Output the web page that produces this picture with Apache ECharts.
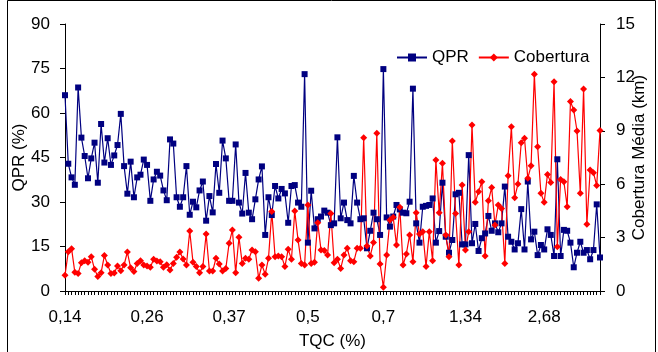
<!DOCTYPE html>
<html>
<head>
<meta charset="utf-8">
<script src="https://cdn.jsdelivr.net/npm/echarts@6/dist/echarts.min.js"></script>
<style>
html,body{margin:0;padding:0;background:#fff;}
#chart{width:658px;height:352px;}
</style>
</head>
<body>
<div id="chart"></div>
<script>
// Tick labels on the TQC axis and the category index at which each appears
const tqcLabels = ['0,14', '0,26', '0,37', '0,5', '0,7', '1,34', '2,68'];
const tqcLabelIndex = [0, 25, 50, 74, 97, 122, 146];

// QPR (%) – left axis
const qpr = [
  66, 42.9, 38.3, 35.8, 68.6, 51.7, 45.5, 38.0, 44.7, 50.0,
  36.5, 56.3, 43.3, 51.5, 42.5, 45.7, 49.2, 59.7, 42.1, 32.8,
  43.6, 31.6, 38.3, 39.2, 44.3, 42.5, 30.4, 37.6, 40.2, 38.9,
  33.9, 30.6, 51.1, 49.7, 31.6, 28.4, 31.6, 42.1, 25.7, 30.1,
  28.2, 33.9, 36.9, 23.7, 32.0, 26.5, 42.8, 33.1, 50.7, 44.7,
  30.4, 30.4, 49.4, 29.8, 26.1, 39.8, 26.4, 24.2, 30.9, 37.6,
  42.0, 18.9, 31.6, 25.6, 35.4, 31.2, 34.4, 32.9, 23.0, 35.4,
  35.7, 29.8, 28.4, 73.1, 16.3, 33.8, 21.1, 24.2, 25.1, 27.1,
  26.4, 22.2,
  22.8, 51.8, 24.5, 29.8, 23.9, 22.8, 38.8, 29.8, 24.2, 24.5,
  14.4, 20.3, 26.4, 24.2, 18.9, 74.8, 24.8, 21.7, 25.1, 29.0,
  27.5, 26.4, 26.2, 30.1, 68.2, 22.8, 16.3, 28.4, 28.7, 29.0,
  31.2, 16.3, 20.2, 36.5, 18.3, 12.9, 17.2, 32.6, 33.1, 15.7,
  15.7, 45.8,
  16.1, 22.6, 13.5, 17.8, 19.4, 25.3, 20.3, 22.8, 19.8, 22.8,
  35.2, 18.3, 16.6, 14.0, 16.1, 27.6, 14.0, 36.9, 17.4, 20.0,
  12.1, 15.5, 14.0, 20.8, 18.9, 11.8, 44.4, 11.8, 20.6, 20.3,
  16.3, 8.0, 12.9, 16.6, 12.9, 13.8, 10.7, 13.8, 29.2, 11.3
];

// Cobertura Média (km) – right axis
const cobertura = [
  0.88, 2.21, 2.38, 1.05, 0.99, 1.59, 1.70, 1.61, 1.93, 1.22,
  0.81, 1.03, 1.99, 1.46, 0.99, 1.01, 1.40, 1.14, 1.46, 2.19,
  1.30, 1.09, 1.55, 1.70, 1.46, 1.40, 1.33, 1.78, 1.69, 1.65,
  1.33, 1.48, 1.18, 1.55, 1.89, 2.19, 1.80, 1.46, 3.37, 1.61,
  1.37, 1.03, 1.37, 3.20, 1.12, 1.12, 1.84, 1.52, 1.12, 1.27,
  2.68, 3.43, 1.03, 3.02, 1.55, 1.84, 1.78, 2.30, 2.21, 0.71,
  1.46, 0.94, 1.84, 4.46, 1.93, 1.97, 1.93, 1.37, 2.34, 1.78,
  4.49, 2.87, 1.55, 1.46, 4.83, 1.55, 1.61, 3.84, 2.30, 2.27,
  2.02, 4.36,
  1.59, 1.78, 1.27, 2.02, 2.40, 1.70, 1.65, 2.40, 2.40, 8.61,
  2.53, 1.97, 2.72, 8.86, 1.52, 0.21, 2.02, 3.99, 4.14, 2.58,
  4.70, 1.46, 2.08, 3.15, 1.65, 4.40, 3.20, 3.33, 1.37, 3.33,
  1.70, 7.36, 4.40, 7.17, 3.15, 1.93, 8.43, 4.36, 1.46, 5.96,
  2.30, 3.33,
  9.33, 4.98, 5.58, 6.14, 1.97, 5.07, 5.81, 3.71, 4.83, 4.64,
  1.55, 6.48, 9.23, 5.24, 6.01, 8.33, 8.58, 6.33, 7.04, 12.17,
  8.11, 5.49, 4.98, 6.55, 6.10, 11.76, 2.49, 6.27, 6.14, 4.74,
  10.64, 10.17, 8.99, 5.49, 11.35, 3.75, 6.80, 6.65, 5.92, 9.01
];

const categories = qpr.map((_, i) => String(i));
const labelAt = {};
tqcLabelIndex.forEach((idx, j) => { labelAt[idx] = tqcLabels[j]; });

const FONT = 'Liberation Sans';
const chart = echarts.init(document.getElementById('chart'), null, {renderer: 'canvas'});
chart.setOption({
  animation: false,
  backgroundColor: '#fff',
  textStyle: {fontFamily: FONT},
  graphic: [{
    type: 'rect', silent: true,
    shape: {x: 7.5, y: 0.5, width: 648, height: 360},
    style: {fill: 'none', stroke: '#000', lineWidth: 1}
  }],
  legend: {
    left: 391, top: 44,
    itemWidth: 30, itemHeight: 10, itemGap: 9,
    textStyle: {fontFamily: FONT, fontSize: 17, color: '#000'},
    data: ['QPR', 'Cobertura']
  },
  grid: {left: 65, right: 58, top: 24, bottom: 61, containLabel: false, outerBoundsMode: 'none'},
  xAxis: {
    type: 'category',
    data: categories,
    boundaryGap: false,
    name: 'TQC (%)',
    nameLocation: 'middle',
    nameGap: 42,
    nameMoveOverlap: false,
    nameTextStyle: {fontFamily: FONT, fontSize: 17, color: '#000'},
    axisLine: {lineStyle: {color: '#000', width: 1}},
    axisTick: {show: true, interval: 0, length: 4, lineStyle: {color: '#000'}},
    axisLabel: {
      interval: (idx) => labelAt[idx] !== undefined,
      formatter: (v, idx) => labelAt[idx] || '',
      fontFamily: FONT, fontSize: 17, color: '#000', margin: 18
    },
    splitLine: {show: false}
  },
  yAxis: [{
    type: 'value', min: 0, max: 90, interval: 15,
    name: 'QPR (%)', nameLocation: 'middle', nameGap: 37,
    nameMoveOverlap: false,
    nameTextStyle: {fontFamily: FONT, fontSize: 17, color: '#000'},
    axisLine: {show: true, lineStyle: {color: '#000'}},
    axisTick: {show: true, length: 5, lineStyle: {color: '#000'}},
    axisLabel: {fontFamily: FONT, fontSize: 17, color: '#000', margin: 15},
    splitLine: {show: false}
  }, {
    type: 'value', min: 0, max: 15, interval: 3, position: 'right',
    name: 'Cobertura Média (km)', nameLocation: 'middle', nameGap: 31,
    nameMoveOverlap: false,
    nameRotate: 90,
    nameTextStyle: {fontFamily: FONT, fontSize: 17, color: '#000'},
    axisLine: {show: true, lineStyle: {color: '#000'}},
    axisTick: {show: true, length: 5, lineStyle: {color: '#000'}},
    axisLabel: {fontFamily: FONT, fontSize: 17, color: '#000', margin: 16},
    splitLine: {show: false}
  }],
  series: [{
    name: 'QPR', type: 'line', yAxisIndex: 0,
    data: qpr,
    showAllSymbol: true,
    symbol: 'rect', symbolSize: 6,
    itemStyle: {color: '#000080'},
    lineStyle: {color: '#000080', width: 1.2}
  }, {
    name: 'Cobertura', type: 'line', yAxisIndex: 1,
    data: cobertura,
    showAllSymbol: true,
    symbol: 'diamond', symbolSize: 7,
    itemStyle: {color: '#FF0000'},
    lineStyle: {color: '#FF0000', width: 1.2}
  }]
});
</script>
</body>
</html>
